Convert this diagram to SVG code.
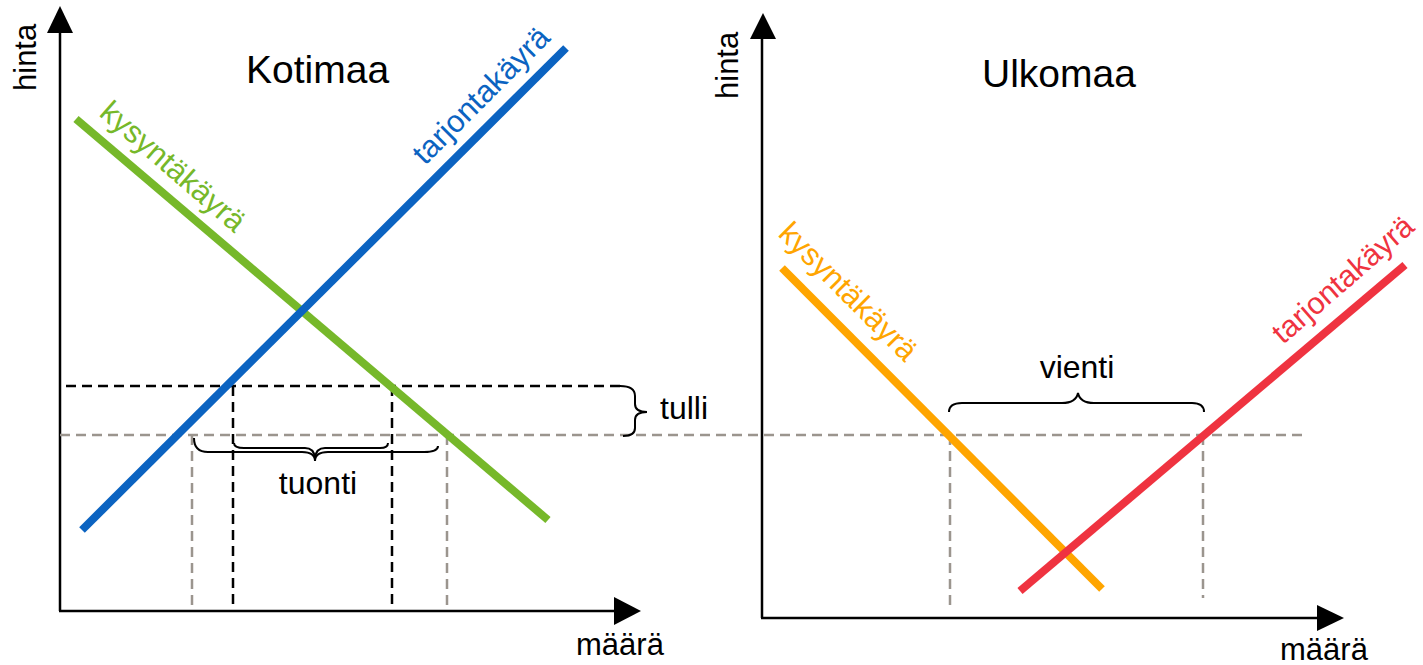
<svg xmlns="http://www.w3.org/2000/svg" width="1423" height="665" viewBox="0 0 1423 665">
<style>
text{font-family:"Liberation Sans",Arial,sans-serif;font-size:31px;fill:#000}
.title{font-size:39px}
.lbl{font-size:32px}
.axis{stroke:#000;stroke-width:2.5;fill:none}
.dk{stroke:#000;stroke-width:2.5;stroke-dasharray:10 6;fill:none}
.gr{stroke:#9B958E;stroke-width:2.5;stroke-dasharray:10 6;fill:none}
.brace{stroke:#000;stroke-width:2;fill:none}
.curve{stroke-width:8;fill:none}
</style>
<rect width="1423" height="665" fill="#fff"/>
<g id="connectors">
  <line class="axis" x1="60" y1="611" x2="60" y2="30"/>
  <polygon points="60,6 47,33 73,33" fill="#000"/>
  <line class="axis" x1="59" y1="611" x2="616" y2="611"/>
  <polygon points="641,611 614,597 614,625" fill="#000"/>
  <line class="axis" x1="762" y1="618" x2="762" y2="36"/>
  <polygon points="763,13 750,39 776,39" fill="#000"/>
  <line class="axis" x1="761" y1="618" x2="1319" y2="618"/>
  <polygon points="1344,618 1317,605 1317,631" fill="#000"/>
  <line class="gr" x1="60" y1="435" x2="1305" y2="435"/>
  <line class="gr" x1="192" y1="435" x2="192" y2="611"/>
  <line class="gr" x1="447" y1="435" x2="447" y2="611"/>
  <line class="gr" x1="950" y1="435" x2="950" y2="606"/>
  <line class="gr" x1="1203" y1="435" x2="1203" y2="598"/>
  <line class="dk" x1="66" y1="386" x2="622" y2="386"/>
  <line class="dk" x1="233" y1="386" x2="233" y2="611"/>
  <line class="dk" x1="392" y1="386" x2="392" y2="611"/>
  <path class="brace" d="M194,438 Q194,452 208,452 L302,452 Q315,452 315,461 Q315,452 328,452 L424,452 Q438,452 438,446"/>
  <path class="brace" d="M234,443 Q234,448 244,448 L305,448 Q314,448 315,458 Q316,448 325,448 L380,448 Q388,448 388,443"/>
  <path class="brace" d="M620,386 Q635,386 635,396 L635,404 Q635,412 647,412 Q635,412 635,420 L635,428 Q635,436 623,436"/>
  <path class="brace" d="M949,412 Q949,403 962,403 L1062,403 Q1076,403 1078,393 Q1080,403 1094,403 L1192,403 Q1204,403 1204,412"/>
</g>
<g id="kotimaa-demand">
  <line class="curve" x1="76" y1="119" x2="548" y2="520" stroke="#76B82A"/>
  <text transform="translate(98,115) rotate(41)" style="fill:#76B82A">kysyntäkäyrä</text>
</g>
<g id="kotimaa-supply">
  <line class="curve" x1="82" y1="530" x2="566" y2="48" stroke="#0B63C1"/>
  <text transform="translate(425,166) rotate(-45)" style="fill:#0B63C1">tarjontakäyrä</text>
</g>
<g id="ulkomaa-demand">
  <line class="curve" x1="782" y1="268" x2="1102" y2="589" stroke="#FFA500"/>
  <text transform="translate(777,235) rotate(45)" style="fill:#FFA500">kysyntäkäyrä</text>
</g>
<g id="ulkomaa-supply">
  <line class="curve" x1="1020" y1="591" x2="1405" y2="265" stroke="#EF3340"/>
  <text transform="translate(1283,345) rotate(-41)" style="fill:#EF3340;font-size:30.5px">tarjontakäyrä</text>
</g>
<g id="labels">
  <text class="title" x="246" y="83">Kotimaa</text>
  <text class="title" x="982" y="87">Ulkomaa</text>
  <text transform="translate(36,91) rotate(-90)">hinta</text>
  <text transform="translate(738,99) rotate(-90)">hinta</text>
  <text x="576" y="655">määrä</text>
  <text x="1280" y="660">määrä</text>
  <text class="lbl" x="660" y="419">tulli</text>
  <text class="lbl" x="318" y="494" text-anchor="middle">tuonti</text>
  <text class="lbl" x="1077" y="378" text-anchor="middle">vienti</text>
</g>
</svg>
